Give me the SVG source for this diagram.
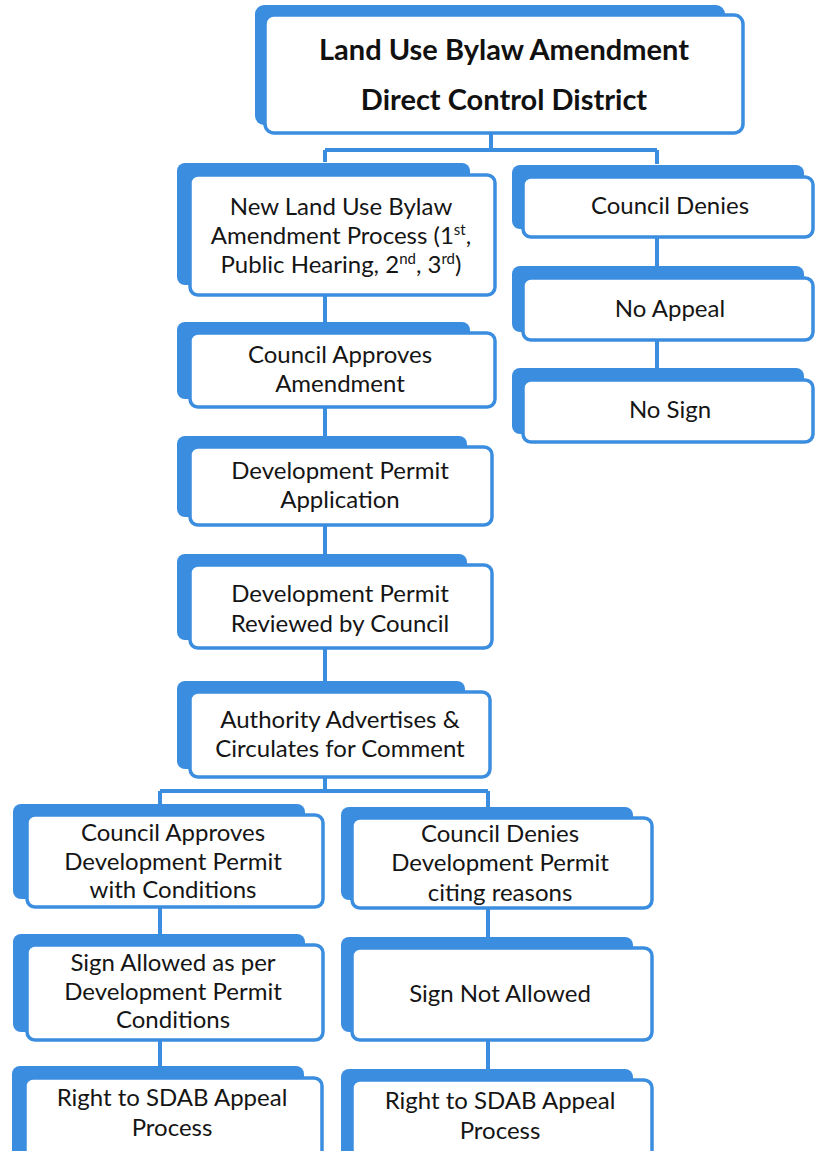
<svg xmlns="http://www.w3.org/2000/svg" width="816" height="1151" viewBox="0 0 816 1151">
<style>
.sh{fill:#3b8de0}
.bx{fill:#fff;stroke:#3b8de0;stroke-width:3.5}
.t{font-family:Lato,"Liberation Sans",sans-serif;font-size:24px;fill:#151515;text-anchor:middle}
.tb{font-family:Lato,"Liberation Sans",sans-serif;font-size:29px;font-weight:bold;fill:#111;text-anchor:middle}
.c{stroke:#3b8de0;stroke-width:4;fill:none}
.sup{font-size:15px}
</style>
<rect width="816" height="1151" fill="#fff"/>
<g id="connectors" class="c">
<path d="M491,133V150M325,150H657M325,150V162M657,150V164"/>
<path d="M657,237V266M657,340V368"/>
<path d="M325,295V322M325,407V436M325,525V554M325,648V681"/>
<path d="M325,777V791M160,791H488M160,791V804M488,791V807"/>
<path d="M160,907V934M488,908V937M160,1040V1066M488,1040V1069"/>
</g>
<g id="n1"><rect class="sh" x="255" y="5" width="470" height="120" rx="9"/><rect class="bx" x="265" y="15" width="478" height="118" rx="9"/>
<text class="tb" x="504" y="60">Land Use Bylaw Amendment</text><text class="tb" x="504" y="110">Direct Control District</text></g>
<g id="n2"><rect class="sh" x="177" y="163" width="293" height="122" rx="8"/><rect class="bx" x="190" y="175" width="305" height="120" rx="8"/>
<text class="t" x="341" y="215">New Land Use Bylaw</text>
<text class="t" x="341" y="244">Amendment Process (1<tspan class="sup" dy="-9">st</tspan><tspan dy="9">,</tspan></text>
<text class="t" x="341" y="273">Public Hearing, 2<tspan class="sup" dy="-9">nd</tspan><tspan dy="9">, 3</tspan><tspan class="sup" dy="-9">rd</tspan><tspan dy="9">)</tspan></text></g>
<g id="n3"><rect class="sh" x="512" y="165" width="292" height="64" rx="8"/><rect class="bx" x="523" y="177" width="290" height="60" rx="8"/>
<text class="t" x="670" y="214">Council Denies</text></g>
<g id="n4"><rect class="sh" x="512" y="266" width="292" height="66" rx="8"/><rect class="bx" x="523" y="278" width="290" height="62" rx="8"/>
<text class="t" x="670" y="317">No Appeal</text></g>
<g id="n5"><rect class="sh" x="512" y="368" width="292" height="66" rx="8"/><rect class="bx" x="523" y="380" width="290" height="62" rx="8"/>
<text class="t" x="670" y="418">No Sign</text></g>
<g id="n6"><rect class="sh" x="177" y="322" width="293" height="77" rx="8"/><rect class="bx" x="190" y="333" width="305" height="74" rx="8"/>
<text class="t" x="340" y="363">Council Approves</text><text class="t" x="340" y="392">Amendment</text></g>
<g id="n7"><rect class="sh" x="177" y="436" width="290" height="81" rx="8"/><rect class="bx" x="190" y="447" width="302" height="78" rx="8"/>
<text class="t" x="340" y="479">Development Permit</text><text class="t" x="340" y="508">Application</text></g>
<g id="n8"><rect class="sh" x="177" y="554" width="290" height="86" rx="8"/><rect class="bx" x="190" y="565" width="302" height="83" rx="8"/>
<text class="t" x="340" y="602">Development Permit</text><text class="t" x="340" y="632">Reviewed by Council</text></g>
<g id="n9"><rect class="sh" x="177" y="681" width="288" height="88" rx="8"/><rect class="bx" x="190" y="692" width="300" height="85" rx="8"/>
<text class="t" x="340" y="728">Authority Advertises &amp;</text><text class="t" x="340" y="757">Circulates for Comment</text></g>
<g id="n10"><rect class="sh" x="13" y="804" width="292" height="95" rx="8"/><rect class="bx" x="27" y="815" width="296" height="92" rx="8"/>
<text class="t" x="173" y="841">Council Approves</text><text class="t" x="173" y="870">Development Permit</text><text class="t" x="173" y="898">with Conditions</text></g>
<g id="n11"><rect class="sh" x="341" y="807" width="292" height="93" rx="8"/><rect class="bx" x="352" y="818" width="300" height="90" rx="8"/>
<text class="t" x="500" y="842">Council Denies</text><text class="t" x="500" y="871">Development Permit</text><text class="t" x="500" y="901">citing reasons</text></g>
<g id="n12"><rect class="sh" x="13" y="934" width="292" height="98" rx="8"/><rect class="bx" x="27" y="945" width="296" height="95" rx="8"/>
<text class="t" x="173" y="971">Sign Allowed as per</text><text class="t" x="173" y="1000">Development Permit</text><text class="t" x="173" y="1028">Conditions</text></g>
<g id="n13"><rect class="sh" x="341" y="937" width="292" height="95" rx="8"/><rect class="bx" x="352" y="948" width="300" height="92" rx="8"/>
<text class="t" x="500" y="1002">Sign Not Allowed</text></g>
<g id="n14"><rect class="sh" x="12" y="1066" width="292" height="100" rx="8"/><rect class="bx" x="25" y="1078" width="297" height="95" rx="8"/>
<text class="t" x="172" y="1106">Right to SDAB Appeal</text><text class="t" x="172" y="1136">Process</text></g>
<g id="n15"><rect class="sh" x="341" y="1069" width="292" height="100" rx="8"/><rect class="bx" x="352" y="1080" width="300" height="95" rx="8"/>
<text class="t" x="500" y="1109">Right to SDAB Appeal</text><text class="t" x="500" y="1139">Process</text></g>
</svg>
